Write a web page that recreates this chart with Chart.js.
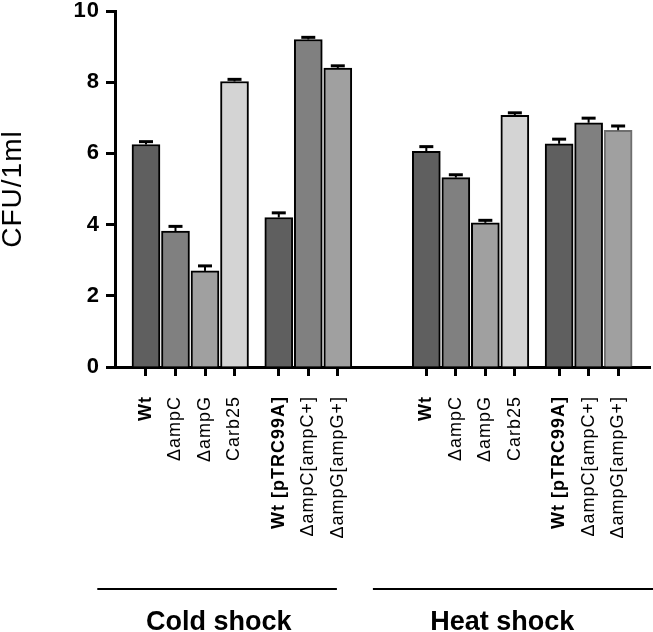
<!DOCTYPE html>
<html>
<head>
<meta charset="utf-8">
<script src="https://cdn.jsdelivr.net/npm/chart.js@4/dist/chart.umd.min.js"></script>
<style>
  html, body { margin: 0; padding: 0; background: #fff; }
  #wrap { width: 653px; height: 632px; }
</style>
</head>
<body>
<div id="wrap"><canvas id="cfuChart" width="653" height="632"></canvas></div>
<script>
// Data
const strainLabels = ['Wt', '\u0394ampC', '\u0394ampG', 'Carb25', 'Wt [pTRC99A]', '\u0394ampC[ampC+]', '\u0394ampG[ampG+]'];
const groupNames = ['Cold shock', 'Heat shock'];
const coldValues = [6.25, 3.82, 2.70, 8.02, 4.20, 9.20, 8.40];
const coldErrors = [0.08, 0.13, 0.14, 0.06, 0.13, 0.06, 0.06];
const heatValues = [6.06, 5.32, 4.05, 7.07, 6.27, 6.86, 6.65];
const heatErrors = [0.13, 0.08, 0.07, 0.07, 0.13, 0.13, 0.12];
const yTickValues = [0, 2, 4, 6, 8, 10];

const FONT = "'Liberation Sans', Arial, Helvetica, sans-serif";
const shades = ['#5f5f5f', '#808080', '#a0a0a0', '#d4d4d4', '#5f5f5f', '#808080', '#a0a0a0'];

// x slot of a bar: 4 strains, small gap, 3 complemented strains, bigger gap between groups
function barSlot(group, i) {
    return group * 9.5 + i + (i >= 4 ? 0.5 : 0);
}

const allValues = coldValues.concat(heatValues);
const allErrors = coldErrors.concat(heatErrors);
const allLabels = strainLabels.concat(strainLabels);
const allSlots = [];
[coldValues, heatValues].forEach((vals, g) => {
    vals.forEach((v, i) => allSlots.push(barSlot(g, i)));
});

// Error bars (upper half only) and the group brackets underneath
const extrasPlugin = {
    id: 'extras',
    beforeDraw(chart) {
        // the figure's tick labels are a bit spaced out
        chart.ctx.letterSpacing = '1px';
    },
    afterDatasetsDraw(chart) {
        const ctx = chart.ctx;
        const xs = chart.scales.x, ys = chart.scales.y;
        ctx.save();
        ctx.strokeStyle = '#000';
        allValues.forEach((v, i) => {
            const x = xs.getPixelForValue(allSlots[i]);
            const y0 = ys.getPixelForValue(v);
            const y1 = ys.getPixelForValue(v + allErrors[i]);
            ctx.lineWidth = 2;
            ctx.beginPath();
            ctx.moveTo(x, y0);
            ctx.lineTo(x, y1);
            ctx.stroke();
            ctx.lineWidth = 3;
            ctx.beginPath();
            ctx.moveTo(x - 7, y1);
            ctx.lineTo(x + 7, y1);
            ctx.stroke();
        });
        ctx.restore();
    },
    afterDraw(chart) {
        const ctx = chart.ctx;
        const xs = chart.scales.x;
        const lineY = chart.chartArea.bottom + 222;
        const spans = [[-1.65, 6.47], [7.69, 17.3]];
        const centers = [2.47, 12.07];
        ctx.save();
        ctx.letterSpacing = '0px';
        ctx.strokeStyle = '#000';
        ctx.lineWidth = 2;
        spans.forEach(s => {
            ctx.beginPath();
            ctx.moveTo(xs.getPixelForValue(s[0]), lineY);
            ctx.lineTo(xs.getPixelForValue(s[1]), lineY);
            ctx.stroke();
        });
        ctx.fillStyle = '#000';
        ctx.font = 'bold 27px ' + FONT;
        ctx.textAlign = 'center';
        ctx.textBaseline = 'alphabetic';
        groupNames.forEach((name, g) => {
            ctx.fillText(name, xs.getPixelForValue(centers[g]), lineY + 41);
        });
        ctx.restore();
    }
};

const cfuChart = new Chart(document.getElementById('cfuChart'), {
    type: 'bar',
    data: {
        datasets: [{
            data: allValues.map((v, i) => ({ x: allSlots[i], y: v })),
            backgroundColor: allValues.map((v, i) => shades[i % 7]),
            borderColor: allValues.map((v, i) => i === allValues.length - 1 ? '#6e6e6e' : '#000'),
            borderWidth: 2,
            borderSkipped: 'bottom',
            barThickness: 28
        }]
    },
    options: {
        responsive: false,
        animation: false,
        layout: { padding: { top: 11, right: 3, left: 0, bottom: 0 } },
        plugins: { legend: { display: false }, tooltip: { enabled: false } },
        scales: {
            x: {
                type: 'linear',
                min: -1.05,
                max: 17.08,
                offset: false,
                afterBuildTicks: scale => { scale.ticks = allSlots.map(v => ({ value: v })); },
                afterFit: scale => {
                    scale.height = 265;
                    scale.paddingLeft = 0;
                    scale.paddingRight = 0;
                },
                grid: { offset: false, drawOnChartArea: false, drawTicks: true, tickLength: 9, tickWidth: 3, tickColor: '#000' },
                border: { display: true, width: 3, color: '#000' },
                ticks: {
                    autoSkip: false,
                    minRotation: 90,
                    maxRotation: 90,
                    padding: 20,
                    color: '#000',
                    callback: (value, index) => allLabels[index],
                    font: c => ({ family: FONT, size: 18, weight: allLabels[c.index] && allLabels[c.index].startsWith('Wt') ? 'bold' : 'normal' })
                }
            },
            y: {
                min: 0,
                max: 10,
                afterBuildTicks: scale => { scale.ticks = yTickValues.map(v => ({ value: v })); },
                afterFit: scale => {
                    scale.width = 115;
                    scale.paddingTop = 0;
                    scale.paddingBottom = 0;
                },
                grid: { drawOnChartArea: false, drawTicks: true, tickLength: 9, tickWidth: 3, tickColor: '#000' },
                border: { display: true, width: 3, color: '#000' },
                ticks: { padding: 6, color: '#000', font: { family: FONT, size: 22, weight: 'bold' } },
                title: {
                    display: true,
                    text: 'CFU/1ml',
                    color: '#000',
                    padding: { top: -4, bottom: 0 },
                    font: { family: FONT, size: 28, weight: 'normal' }
                }
            }
        }
    },
    plugins: [extrasPlugin]
});
</script>
</body>
</html>
